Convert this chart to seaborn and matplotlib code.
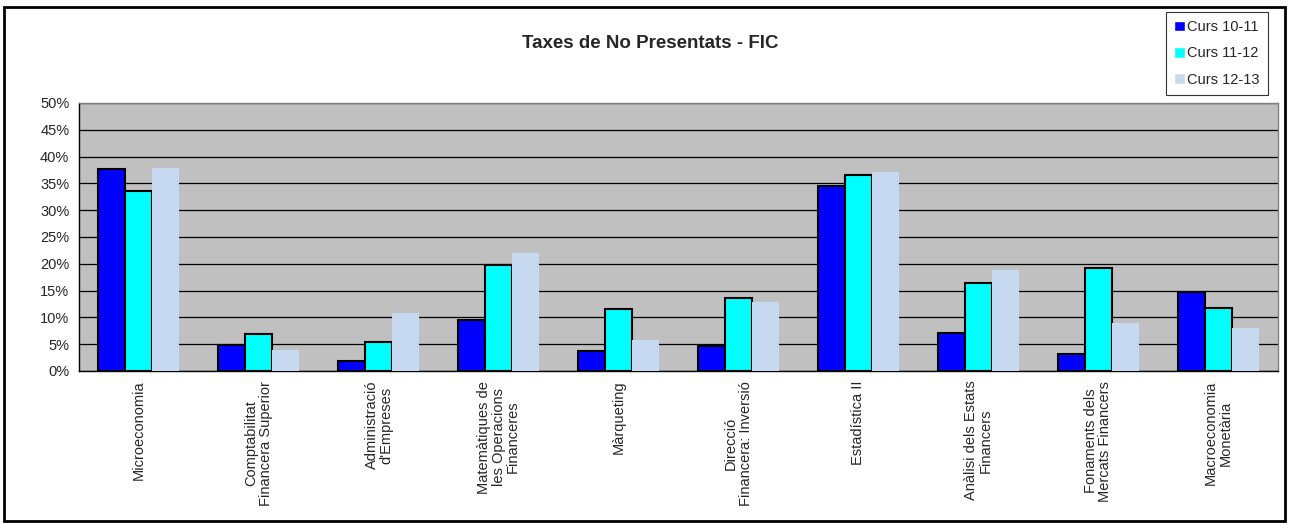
import matplotlib
matplotlib.use("Agg")
import matplotlib.pyplot as plt
import seaborn as sns
import pandas as pd
import numpy as np
from matplotlib.ticker import MultipleLocator, FuncFormatter, FixedLocator
from matplotlib.patches import Rectangle

categories = [
    "Microeconomia",
    "Comptabilitat\nFinancera Superior",
    "Administració\nd'Empreses",
    "Matemàtiques de\nles Operacions\nFinanceres",
    "Màrqueting",
    "Direcció\nFinancera: Inversió",
    "Estadística II",
    "Anàlisi dels Estats\nFinancers",
    "Fonaments dels\nMercats Financers",
    "Macroeconomia\nMonetària",
]
series_names = ["Curs 10-11", "Curs 11-12", "Curs 12-13"]
curs_10_11 = [37.6, 4.85, 1.85, 9.5, 3.7, 4.7, 34.6, 7.1, 3.2, 14.7]
curs_11_12 = [33.5, 6.9, 5.5, 19.8, 11.5, 13.6, 36.6, 16.5, 19.3, 11.7]
curs_12_13 = [37.9, 3.9, 10.9, 22.0, 5.8, 12.9, 37.1, 18.9, 8.9, 8.0]
colors = ["#0000FF", "#00FFFF", "#C6D9F0"]

rows = []
for name, vals in zip(series_names, [curs_10_11, curs_11_12, curs_12_13]):
    for c, v in zip(categories, vals):
        rows.append({"cat": c, "serie": name, "val": v})
df = pd.DataFrame(rows)

sns.set_style("white")
plt.rcParams['font.family'] = ['Liberation Sans', 'DejaVu Sans']

fig = plt.figure(figsize=(12.89, 5.23), dpi=100)
ax = fig.add_axes([79/1289, 1-371/523, (1278-79)/1289, (371-103)/523])

sns.barplot(data=df, x="cat", y="val", hue="serie", order=categories,
            hue_order=series_names, palette=colors, width=0.675,
            ax=ax, saturation=1, zorder=3)

for i, cont in enumerate(ax.containers):
    for p in cont:
        if i < 2:
            p.set_edgecolor("black")
            p.set_linewidth(1.5)
        else:
            p.set_edgecolor("none")
            p.set_linewidth(0)

ax.set_facecolor("#C0C0C0")
ax.set_ylim(0, 50)
ax.set_xlim(-0.5, len(categories) - 0.5)
ax.yaxis.set_major_locator(MultipleLocator(5))
ax.yaxis.set_major_formatter(FuncFormatter(lambda v, p: f"{int(v)}%"))
ax.grid(axis="y", color="black", linewidth=0.9, zorder=1)
ax.set_axisbelow(True)
ax.set_xlabel("")
ax.set_ylabel("")

ax.tick_params(axis="y", direction="out", length=4, width=0.8, color="black",
               labelsize=10.5, pad=3)
ax.tick_params(axis="x", which="major", length=0, labelsize=10.5, pad=7)
ax.xaxis.set_minor_locator(FixedLocator(np.arange(-0.5, len(categories), 1.0)))
ax.tick_params(axis="x", which="minor", direction="out", length=4, width=0.8, color="black")
for lab in ax.get_xticklabels():
    lab.set_rotation(90)
    lab.set_ha("center")
    lab.set_va("top")
    lab.set_multialignment("center")
    lab.set_linespacing(1.05)

for s in ["top", "right"]:
    ax.spines[s].set_color("#808080")
    ax.spines[s].set_linewidth(1.0)
for s in ["left", "bottom"]:
    ax.spines[s].set_color("black")
    ax.spines[s].set_linewidth(1.0)

handles, labels = ax.get_legend_handles_labels()
if ax.legend_:
    ax.legend_.remove()
leg = fig.legend(handles, labels, loc="upper left",
                 bbox_to_anchor=(1166/1289, 1-12/523), frameon=True,
                 fontsize=10.5, handlelength=0.75, handleheight=0.75,
                 handletextpad=0.15, labelspacing=0.85, borderpad=0.55,
                 borderaxespad=0.0,
                 fancybox=False, edgecolor="black")
leg.get_frame().set_linewidth(0.8)

fig.text(650/1289, 1-44/523, "Taxes de No Presentats - FIC", ha="center",
         va="center", fontsize=13.5, fontweight="bold")

fig.patches.append(Rectangle((0.003, 0.003), 0.994, 0.984, transform=fig.transFigure,
                             fill=False, edgecolor="black", linewidth=2.0))

fig.savefig("out.png", dpi=100, facecolor="white")
